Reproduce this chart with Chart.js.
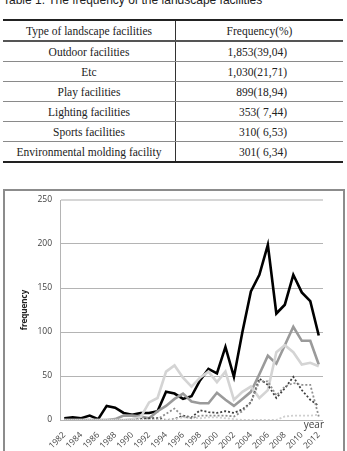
<!DOCTYPE html>
<html>
<head>
<meta charset="utf-8">
<script src="https://cdn.jsdelivr.net/npm/chart.js@4.4.1/dist/chart.umd.min.js"></script>
<style>
    body { margin: 0; width: 347px; height: 451px; overflow: hidden; background: #fff; position: relative; }
    #caption { position: absolute; left: 3px; top: -7px; font: 12px "Liberation Sans", sans-serif; color: #222; white-space: nowrap; }
    #tbl { position: absolute; left: 3px; top: 19px; width: 340px; border-collapse: collapse; font: 11.5px "Liberation Serif", serif; color: #222; }
    #tbl td, #tbl th { height: 19px; padding: 0; font-weight: normal; white-space: pre; border-bottom: 1.5px solid #8a8a8a; }
    #tbl tr:first-child th { border-top: 2px solid #222; border-bottom: 2px solid #555; }
    #tbl tr:last-child td { border-bottom: 2.5px solid #222; }
    #tbl td:first-child, #tbl th:first-child { width: 172px; text-align: center; border-right: 1px solid #333; }
    #tbl td.num { text-align: right; padding-right: 56px; }
    #frame { position: absolute; left: 3px; top: 189px; width: 338px; height: 280px; border: 2px solid #8c8c8c; }
    #wrap { position: absolute; left: 0; top: 185px; width: 347px; height: 266px; }
</style>
</head>
<body>
<div id="caption">Table 1. The frequency of the landscape facilities</div>
<table id="tbl">
    <tr><th>Type of landscape facilities</th><th>Frequency(%)</th></tr>
    <tr><td>Outdoor facilities</td><td class="num">1,853(39,04)</td></tr>
    <tr><td>Etc</td><td class="num">1,030(21,71)</td></tr>
    <tr><td>Play facilities</td><td class="num">899(18,94)</td></tr>
    <tr><td>Lighting facilities</td><td class="num">353( 7,44)</td></tr>
    <tr><td>Sports facilities</td><td class="num">310( 6,53)</td></tr>
    <tr><td>Environmental molding facility</td><td class="num">301( 6,34)</td></tr>
</table>
<div id="frame"></div>
<div id="wrap"><canvas id="chart" width="347" height="266"></canvas></div>
<script>
// years 1982..2012
const years = ["1982", "1983", "1984", "1985", "1986", "1987", "1988", "1989", "1990", "1991",
    "1992", "1993", "1994", "1995", "1996", "1997", "1998", "1999", "2000", "2001",
    "2002", "2003", "2004", "2005", "2006", "2007", "2008", "2009", "2010", "2011", "2012"];
const yTicks = [0, 50, 100, 150, 200, 250];

const outdoor = [2, 3, 2, 5, 1, 16, 14, 8, 6, 8, 8, 10, 32, 30, 24, 27, 45, 58, 53, 83,
    49, 100, 146, 165, 199, 121, 131, 165, 145, 135, 96];
const etc = [0, 0, 0, 0, 0, 0, 1, 5, 5, 4, 2, 10, 16, 24, 30, 21, 19, 19, 31, 23,
    16, 24, 32, 52, 73, 64, 85, 106, 90, 90, 63];
const play = [0, 0, 0, 0, 0, 0, 0, 0, 1, 3, 20, 25, 55, 62, 48, 38, 48, 55, 43, 55,
    23, 32, 38, 25, 34, 77, 85, 77, 63, 65, 61];
const lighting = [0, 0, 0, 0, 0, 0, 0, 0, 0, 1, 2, 2, 0, 1, 5, 3, 11, 9, 8, 10,
    8, 12, 20, 47, 40, 25, 36, 49, 34, 23, 16];
const sports = [0, 0, 0, 0, 0, 0, 0, 0, 0, 0, 0, 1, 7, 13, 4, 2, 5, 5, 5, 5,
    4, 10, 20, 44, 44, 28, 38, 42, 40, 40, 4];
const environ = [0, 0, 0, 0, 0, 0, 0, 0, 0, 0, 0, 0, 0, 1, 3, 3, 2, 3, 3, 2,
    1, 0, 0, 0, 0, 0, 4, 5, 5, 5, 6];

const tickFont = { family: "Open Sans", size: 8.5 };

// axis captions drawn on the canvas
const captions = {
    id: "captions",
    afterDraw(chart) {
        const { ctx, chartArea } = chart;
        ctx.save();
        ctx.fillStyle = "#404040";
        ctx.font = "10px 'Open Sans'";
        ctx.textAlign = "right";
        ctx.textBaseline = "alphabetic";
        ctx.fillText("year", chartArea.right + 1, chartArea.bottom + 8);
        ctx.translate(25, (chartArea.top + chartArea.bottom) / 2);
        ctx.rotate(-Math.PI / 2);
        ctx.textAlign = "center";
        ctx.textBaseline = "middle";
        ctx.fillStyle = "#222";
        ctx.font = "bold 8px 'Open Sans'";
        ctx.fillText("frequency", 0, 0);
        ctx.restore();
    }
};

const line = (data, color, width, dash) => ({
    data: data,
    borderColor: color,
    borderWidth: width,
    borderDash: dash || [],
    pointRadius: 0,
    tension: 0,
    fill: false
});

new Chart(document.getElementById("chart"), {
    type: "line",
    data: {
        labels: years,
        datasets: [
            line(environ, "#cfcfcf", 1.8, [2, 2]),
            line(sports, "#8f8f8f", 1.8, [2, 2]),
            line(lighting, "#3f3f3f", 1.8, [2, 2]),
            line(play, "#d4d4d4", 2.6),
            line(etc, "#9a9a9a", 2.6),
            line(outdoor, "#000", 2.6)
        ]
    },
    options: {
        responsive: false,
        animation: false,
        layout: { padding: { top: 15, right: 24, left: 0, bottom: 0 } },
        plugins: { legend: { display: false }, tooltip: { enabled: false } },
        scales: {
            x: {
                offset: true,
                grid: { display: false, drawTicks: false },
                border: { display: false },
                ticks: {
                    autoSkip: false,
                    minRotation: 45,
                    maxRotation: 45,
                    padding: 10,
                    color: "#404040",
                    font: tickFont,
                    callback: (v, i) => i % 2 === 0 ? years[i] : ""
                },
                afterFit: (s) => { s.height = 31; }
            },
            y: {
                min: 0,
                max: 250,
                afterBuildTicks: (s) => { s.ticks = yTicks.map(v => ({ value: v })); },
                grid: {
                    drawTicks: false,
                    color: (c) => c.tick.value === 250 ? "#d6d6d6" : "#b4b4b4",
                    lineWidth: (c) => c.tick.value === 250 ? 2 : 1
                },
                border: { display: true, color: "#b4b4b4", width: 1 },
                ticks: { padding: 8, color: "#404040", font: tickFont },
                afterFit: (s) => { s.width = 60; }
            }
        }
    },
    plugins: [captions]
});
</script>
</body>
</html>
